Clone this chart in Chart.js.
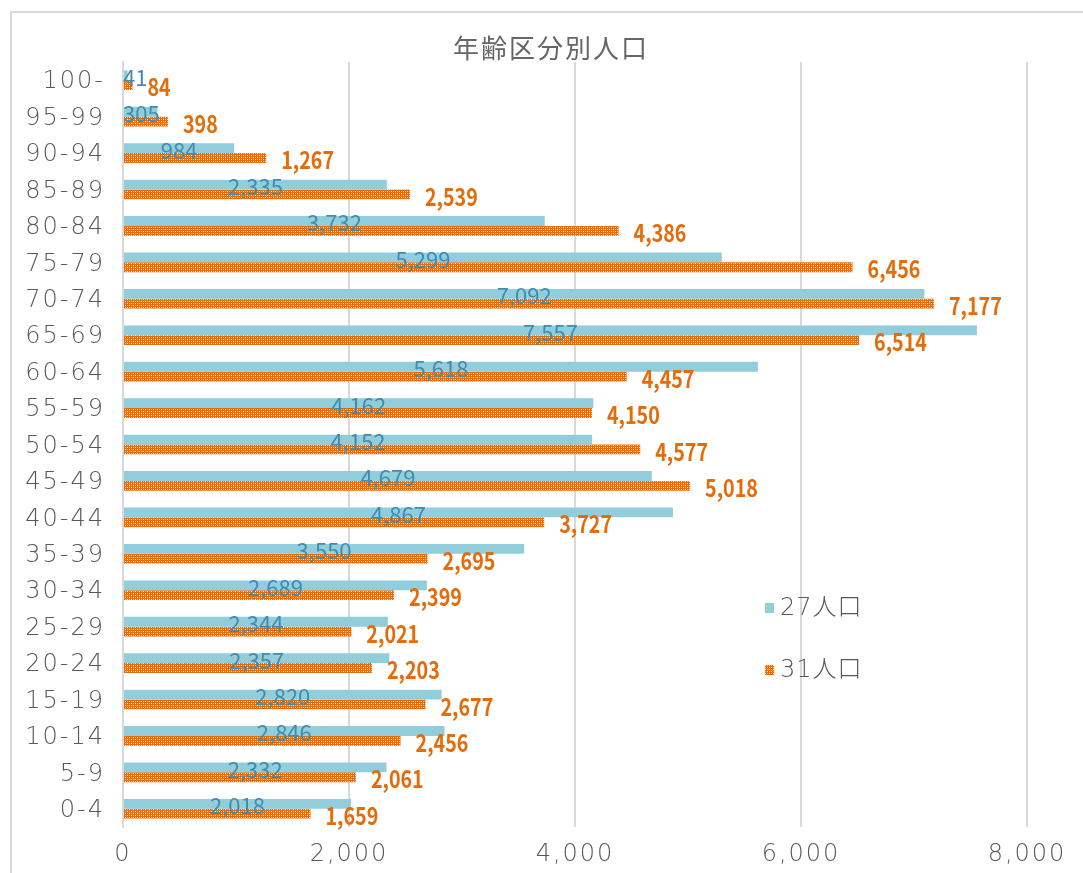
<!DOCTYPE html>
<html>
<head>
<meta charset="utf-8">
<script src="https://cdn.jsdelivr.net/npm/chart.js@4.4.1/dist/chart.umd.min.js"></script>
<style>
  html, body { margin: 0; padding: 0; background: #fff; }
  #wrap { position: relative; width: 1083px; height: 873px; overflow: hidden; }
  #frame { position: absolute; left: 10px; top: 11px; width: 1200px; height: 1000px;
           border-left: 2px solid #d9d9d9; border-top: 2px solid #d9d9d9; box-sizing: border-box; }
  canvas { position: absolute; left: 0; top: 0; }
</style>
</head>
<body>
<div id="wrap">
  <div id="frame"></div>
  <canvas id="chart" width="1083" height="873"></canvas>
</div>
<script>
// age groups, youngest first (drawn bottom to top)
const ageGroups = ["0-4","5-9","10-14","15-19","20-24","25-29","30-34","35-39","40-44","45-49",
  "50-54","55-59","60-64","65-69","70-74","75-79","80-84","85-89","90-94","95-99","100-"];
const pop27 = [2018,2332,2846,2820,2357,2344,2689,3550,4867,4679,4152,4162,5618,7557,7092,5299,3732,2335,984,305,41];
const pop31 = [1659,2061,2456,2677,2203,2021,2399,2695,3727,5018,4577,4150,4457,6514,7177,6456,4386,2539,1267,398,84];
const xTicks = [0,2000,4000,6000,8000];
const chartTitle = "年齢区分別人口";
const seriesNames = ["27人口","31人口"];

const BLUE = "#92cddc";
const ORANGE = "#e46c0a";
const GRAY = "#595959";
const FONT = "'Noto Sans CJK JP', 'Noto Sans', sans-serif";
const WIDE = "'DejaVu Sans', 'Noto Sans CJK JP', sans-serif";

function makePattern(){
  const c = document.createElement("canvas");
  c.width = 4; c.height = 4;
  const g = c.getContext("2d");
  g.fillStyle = ORANGE;
  g.fillRect(0,0,4,4);
  g.fillStyle = "#ffffff";
  g.fillRect(1,1,1,1);
  g.fillRect(3,3,1,1);
  g.fillStyle = "rgba(255,255,255,0.5)";
  g.fillRect(1,3,1,1);
  g.fillRect(3,1,1,1);
  return document.getElementById("chart").getContext("2d").createPattern(c,"repeat");
}
const orangePattern = makePattern();

const fmt = v => v.toLocaleString("en-US");

const extras = {
  id: "extras",
  beforeUpdate(chart){ chart.ctx.letterSpacing = "2px"; },
  beforeDraw(chart){ chart.ctx.letterSpacing = "2px"; },
  afterDatasetsDraw(chart){
    const ctx = chart.ctx;
    const area = chart.chartArea;
    ctx.save();
    ctx.letterSpacing = "0px";
    // blue labels, centred in bar
    const m0 = chart.getDatasetMeta(0);
    ctx.font = "22px " + FONT;
    ctx.fillStyle = "#3f8cb0";
    ctx.textBaseline = "middle";
    ctx.textAlign = "center";
    m0.data.forEach((bar, i) => {
      const txt = fmt(pop27[i]);
      const w = ctx.measureText(txt).width;
      let cx = (bar.base + bar.x) / 2;
      if (cx - w/2 < area.left) cx = area.left + w/2;
      ctx.fillText(txt, cx, bar.y + 2);
    });
    // orange labels, after bar end
    const m1 = chart.getDatasetMeta(1);
    ctx.fillStyle = ORANGE;
    ctx.font = "bold 24px " + FONT;
    ctx.textAlign = "left";
    m1.data.forEach((bar, i) => {
      const txt = fmt(pop31[i]);
      ctx.save();
      ctx.translate(bar.x + 15, bar.y + 2);
      ctx.scale(0.82, 1);
      ctx.fillText(txt, 0, 0);
      ctx.restore();
    });
    // title
    ctx.fillStyle = "#666666";
    ctx.font = "26px " + FONT;
    ctx.letterSpacing = "2px";
    ctx.textAlign = "center";
    ctx.fillText(chartTitle, 551, 48);
    // legend
    ctx.letterSpacing = "1px";
    ctx.textAlign = "left";
    ctx.font = "200 24px " + WIDE;
    ctx.fillStyle = BLUE;
    ctx.fillRect(765, 603, 9, 10);
    ctx.fillStyle = orangePattern;
    ctx.fillRect(765, 665, 9, 10);
    ctx.fillStyle = GRAY;
    ctx.fillText(seriesNames[0], 780, 609);
    ctx.fillText(seriesNames[1], 780, 671);
    ctx.restore();
  }
};

new Chart(document.getElementById("chart"), {
  type: "bar",
  data: {
    labels: ageGroups,
    datasets: [
      { label: seriesNames[0], data: pop27, backgroundColor: BLUE,
        categoryPercentage: 0.54, barPercentage: 1.0 },
      { label: seriesNames[1], data: pop31, backgroundColor: orangePattern,
        categoryPercentage: 0.54, barPercentage: 1.0 }
    ]
  },
  options: {
    indexAxis: "y",
    responsive: false,
    animation: false,
    layout: { padding: { left: 0, top: 62, right: 56, bottom: 0 } },
    plugins: { legend: { display: false }, title: { display: false }, tooltip: { enabled: false } },
    scales: {
      x: {
        min: 0, max: 8000,
        afterBuildTicks: s => { s.ticks = xTicks.map(v => ({ value: v })); },
        afterFit: s => { s.height = 46; },
        grid: { color: "#d9d9d9", lineWidth: 2, drawTicks: false },
        border: { display: false },
        ticks: { color: GRAY, padding: 13, font: { family: WIDE, size: 24, weight: 200 },
                 callback: v => fmt(v) }
      },
      y: {
        reverse: true,
        afterFit: s => { s.width = 123; },
        grid: { display: false, drawTicks: false },
        border: { display: true, color: "#d9d9d9", width: 2 },
        ticks: { color: GRAY, padding: 18, labelOffset: 2,
                 font: { family: WIDE, size: 24, weight: 200 } }
      }
    }
  },
  plugins: [extras]
});
</script>
</body>
</html>
